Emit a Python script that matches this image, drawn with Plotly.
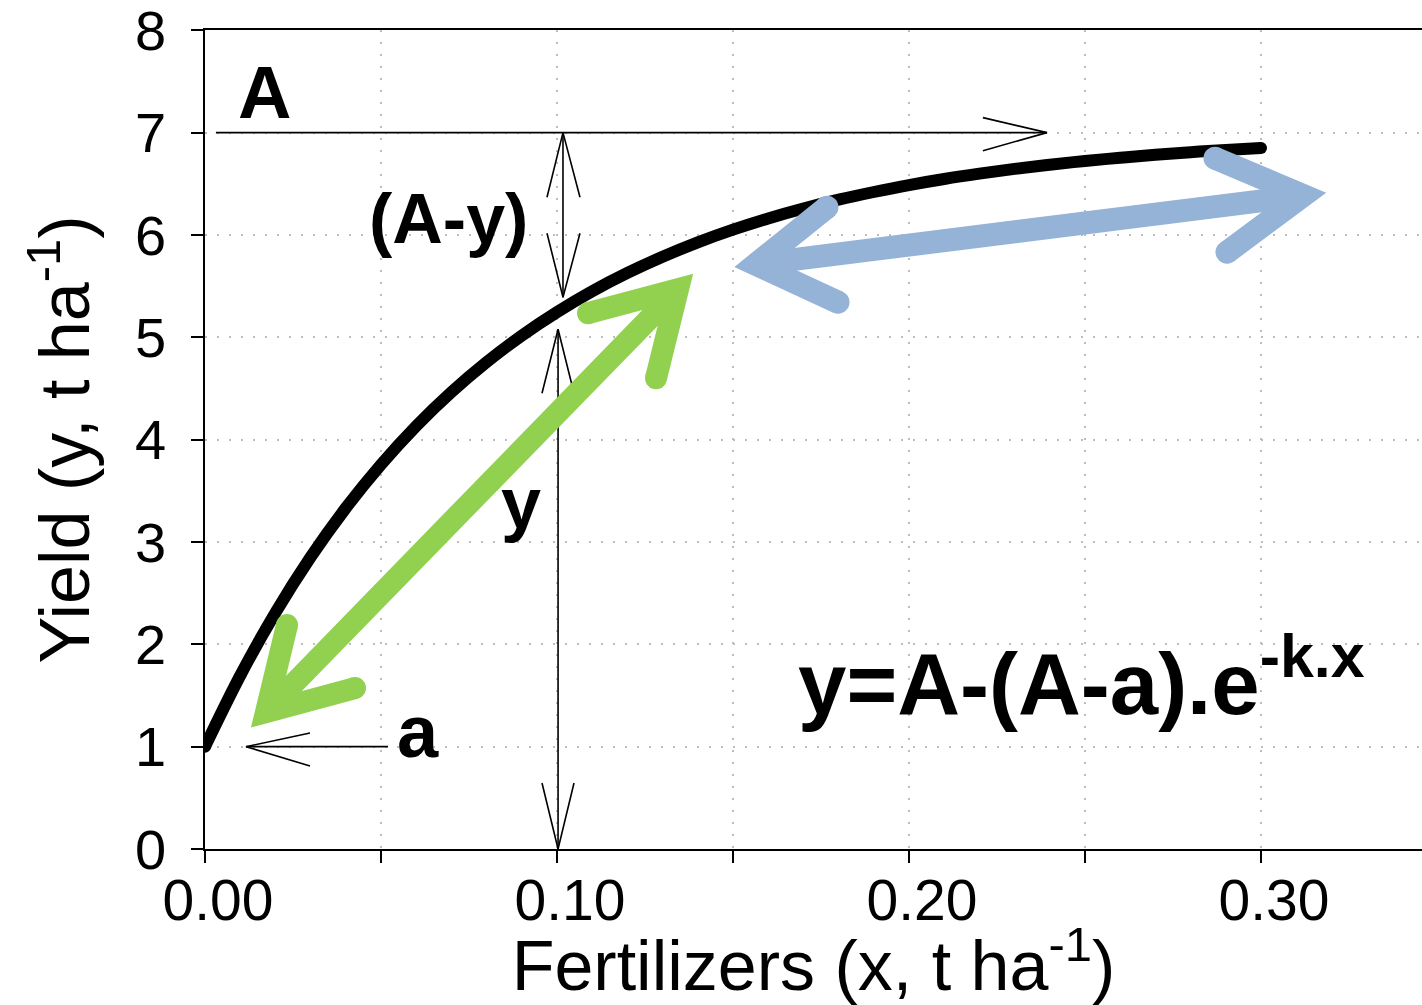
import plotly.graph_objects as go

# ---- data ----
fert_x = [0.00, 0.01, 0.02, 0.03, 0.04, 0.05, 0.06, 0.07, 0.08, 0.09, 0.10,
          0.11, 0.12, 0.13, 0.14, 0.15, 0.16, 0.17, 0.18, 0.19, 0.20,
          0.21, 0.22, 0.23, 0.24, 0.25, 0.26, 0.27, 0.28, 0.29, 0.30]
yield_y = [1.000, 1.694, 2.309, 2.852, 3.332, 3.756, 4.132, 4.464, 4.757, 5.017, 5.246,
           5.450, 5.629, 5.787, 5.928, 6.052, 6.162, 6.259, 6.345, 6.420, 6.488,
           6.547, 6.599, 6.646, 6.687, 6.723, 6.755, 6.783, 6.809, 6.831, 6.850]

x_tickvals = [0.0, 0.1, 0.2, 0.3]
x_ticktext = ["0.00", "0.10", "0.20", "0.30"]
y_tickvals = [0, 1, 2, 3, 4, 5, 6, 7, 8]

# annotation geometry in data units (x: t/ha, y: t/ha)
# thin arrows: shaft (x0, y0, x1, y1)
thin_shafts = [
    (0.0031, 7.0, 0.2392, 7.0),
    (0.1017, 7.0, 0.1017, 5.392),
    (0.1003, 5.079, 0.1003, 0.0),
    (0.0520, 1.0, 0.01165, 1.0),
]
# thin arrow heads: (arm1_x, arm1_y, tip_x, tip_y, arm2_x, arm2_y)
thin_heads = [
    (0.2210, 7.147, 0.2392, 7.0, 0.2210, 6.824),
    (0.09716, 6.369, 0.1017, 7.0, 0.10653, 6.369),
    (0.09716, 6.017, 0.1017, 5.392, 0.10653, 6.017),
    (0.09574, 4.454, 0.1003, 5.079, 0.10483, 4.454),
    (0.09574, 0.645, 0.1003, 0.0, 0.10483, 0.645),
    (0.02983, 1.133, 0.01165, 1.0, 0.02983, 0.811),
]
# thick arrows
green_shaft = (0.01733, 1.338, 0.13438, 5.470)
green_heads = [
    (0.02330, 2.188, 0.01733, 1.338, 0.04261, 1.573),
    (0.10881, 5.236, 0.13438, 5.470, 0.12813, 4.601),
]
blue_shaft = (0.15653, 5.714, 0.31200, 6.385)
blue_heads = [
    (0.17670, 6.271, 0.15653, 5.714, 0.17983, 5.343),
    (0.28693, 6.750, 0.31200, 6.385, 0.29034, 5.832),
]

FONT = "Liberation Sans, Arial, sans-serif"
GREEN = "#92D050"
BLUE = "#95B3D7"

fig = go.Figure()
fig.add_trace(go.Scatter(x=fert_x, y=yield_y, mode="lines",
                         line=dict(color="black", width=12, shape="spline", smoothing=1.0),
                         hoverinfo="skip", showlegend=False))
fig.add_trace(go.Scatter(x=[fert_x[0], fert_x[-1]], y=[yield_y[0], yield_y[-1]],
                         mode="markers", marker=dict(color="black", size=12),
                         hoverinfo="skip", showlegend=False))

shapes = []
for (x0, y0, x1, y1) in thin_shafts:
    shapes.append(dict(type="line", xref="x", yref="y", x0=x0, y0=y0, x1=x1, y1=y1,
                       line=dict(color="black", width=1.6), layer="above"))
for (ax, ay, tx, ty, bx, by) in thin_heads:
    shapes.append(dict(type="path", xref="x", yref="y",
                       path=f"M {ax},{ay} L {tx},{ty} L {bx},{by}",
                       line=dict(color="black", width=1.6), layer="above"))


def thick(shaft, heads, color, w):
    x0, y0, x1, y1 = shaft
    shapes.append(dict(type="line", xref="x", yref="y", x0=x0, y0=y0, x1=x1, y1=y1,
                       line=dict(color=color, width=w), layer="above"))
    for (ax, ay, tx, ty, bx, by) in heads:
        shapes.append(dict(type="path", xref="x", yref="y",
                           path=f"M {ax},{ay} L {tx},{ty} L {bx},{by}",
                           line=dict(color=color, width=w), layer="above"))
        for (cx, cy) in [(ax, ay), (bx, by)]:
            r = w / 2
            shapes.append(dict(type="circle", xref="x", yref="y",
                               xsizemode="pixel", ysizemode="pixel",
                               xanchor=cx, yanchor=cy, x0=-r, x1=r, y0=-r, y1=r,
                               fillcolor=color, line=dict(width=0), layer="above"))


thick(green_shaft, green_heads, GREEN, 22)
thick(blue_shaft, blue_heads, BLUE, 23)

annotations = [
    dict(text="<b>A</b>", x=0.0168, y=7.39, font=dict(size=74)),
    dict(text="<b>(A-y)</b>", x=0.0693, y=6.16, font=dict(size=70)),
    dict(text="<b>y</b>", x=0.0899, y=3.38, font=dict(size=72)),
    dict(text="<b>a</b>", x=0.0605, y=1.15, font=dict(size=74)),
]
for a in annotations:
    a.update(xref="x", yref="y", showarrow=False, xanchor="center", yanchor="middle")
    a["font"].update(family=FONT, color="black")
annotations.append(dict(text="<b>y=A-(A-a).e<sup>-k.x</sup></b>", x=0.1680, y=1.12,
                        xref="x", yref="y", showarrow=False, xanchor="left",
                        yanchor="bottom", font=dict(size=87, family=FONT, color="black")))

GRID = dict(gridcolor="#BDBDBD", gridwidth=2, griddash="2px,10px")

fig.update_layout(
    width=1422, height=1005,
    margin=dict(l=205, r=0, t=30, b=156, pad=0),
    paper_bgcolor="white", plot_bgcolor="white",
    font=dict(family=FONT, color="black"),
    shapes=shapes, annotations=annotations,
    xaxis=dict(range=[0, 1217 / 3520], tickvals=x_tickvals, ticktext=x_ticktext,
               showgrid=True, **GRID, zeroline=False,
               showline=True, linecolor="black", linewidth=1.5, mirror=True,
               ticks="outside", ticklen=12, tickwidth=1.5, tickcolor="black",
               tickfont=dict(size=57, family=FONT), ticklabelshift=13,
               ticklabelstandoff=-11,
               minor=dict(tickvals=[0.05, 0.15, 0.25], ticks="outside", ticklen=12,
                          tickwidth=1.5, tickcolor="black", showgrid=True, **GRID),
               title=dict(text="Fertilizers (x, t ha<sup>-1</sup>)",
                          font=dict(size=70, family=FONT), standoff=4),
               automargin=False),
    yaxis=dict(range=[0, 8.003], tickvals=y_tickvals,
               showgrid=True, **GRID, zeroline=False,
               showline=True, linecolor="black", linewidth=1.5,
               ticks="outside", ticklen=12, tickwidth=1.5, tickcolor="black",
               tickfont=dict(size=56, family=FONT), ticklabelstandoff=14,
               ticklabeloverflow="allow",
               title=dict(text="Yield (y, t ha<sup>-1</sup>)",
                          font=dict(size=70, family=FONT), standoff=22),
               automargin=False),
)

fig.write_html("out.html")
